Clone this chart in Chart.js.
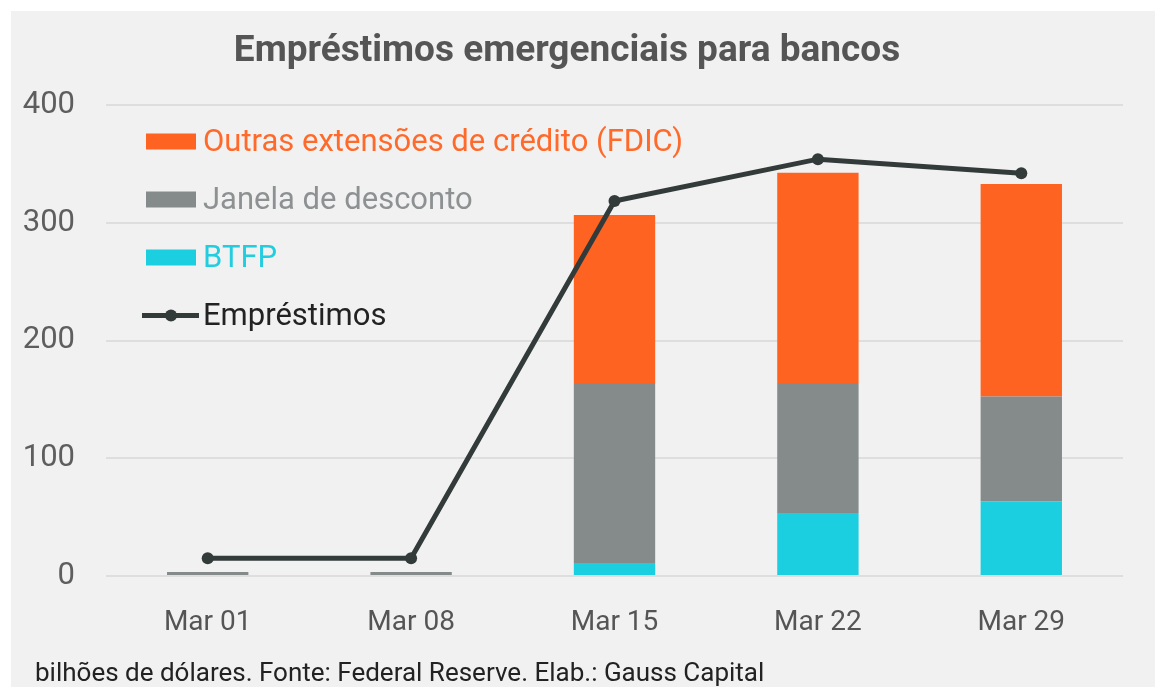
<!DOCTYPE html>
<html>
<head>
<meta charset="utf-8">
<script src="https://cdn.jsdelivr.net/npm/chart.js@4.4.1/dist/chart.umd.min.js"></script>
<style>
  html, body { margin: 0; padding: 0; background: #ffffff; }
  #card { position: absolute; left: 11px; top: 11px; width: 1144px; height: 676px; background: #f1f1f1; }
  canvas { display: block; }
</style>
</head>
<body>
<div id="card"><canvas id="c" width="1144" height="676"></canvas></div>
<script>
const FONT = "'Roboto', 'Liberation Sans', sans-serif";

const categories = ["Mar 01", "Mar 08", "Mar 15", "Mar 22", "Mar 29"];
const btfp = [0, 0, 11, 53.5, 63.5];
const janela = [3.5, 3.5, 153, 110.5, 89];
const outras = [0, 0, 142.5, 178.5, 180.5];
const emprestimos = [15, 15, 318.5, 354, 342];
const yTicks = [0, 100, 200, 300, 400];

const titleText = "Empréstimos emergenciais para bancos";
const footText = "bilhões de dólares. Fonte: Federal Reserve. Elab.: Gauss Capital";

const COLORS = {
  outras: "#ff6322",
  janela: "#858a8b",
  btfp: "#1bcfe1",
  line: "#333a3a"
};

const legendItems = [
  { label: "Outras extensões de crédito (FDIC)", color: COLORS.outras, text: "#ff6a2a", type: "box" },
  { label: "Janela de desconto", color: COLORS.janela, text: "#8d9192", type: "box" },
  { label: "BTFP", color: COLORS.btfp, text: "#22cde0", type: "box" },
  { label: "Empréstimos", color: COLORS.line, text: "#222222", type: "line" }
];

const customLegend = {
  id: "customLegend",
  afterDraw(chart) {
    const ctx = chart.ctx;
    const a = chart.chartArea;
    const x0 = a.left + 40;
    let y = a.top + 36.5;
    ctx.save();
    ctx.font = "31px " + FONT;
    ctx.textBaseline = "middle";
    legendItems.forEach(it => {
      if (it.type === "box") {
        ctx.fillStyle = it.color;
        ctx.fillRect(x0, y - 8, 50, 16);
      } else {
        ctx.strokeStyle = it.color;
        ctx.lineWidth = 5;
        ctx.beginPath();
        ctx.moveTo(x0 - 4, y);
        ctx.lineTo(x0 + 53, y);
        ctx.stroke();
        ctx.fillStyle = it.color;
        ctx.beginPath();
        ctx.arc(x0 + 25, y, 6, 0, Math.PI * 2);
        ctx.fill();
      }
      ctx.fillStyle = it.text;
      ctx.textAlign = "left";
      ctx.fillText(it.label, x0 + 57, y + 2);
      y += 58;
    });
    ctx.restore();
  }
};

const footnote = {
  id: "footnote",
  afterDraw(chart) {
    const ctx = chart.ctx;
    ctx.save();
    ctx.font = "26px " + FONT;
    ctx.fillStyle = "#222222";
    ctx.textAlign = "left";
    ctx.textBaseline = "alphabetic";
    ctx.fillText(footText, 24, 670);
    ctx.restore();
  }
};

new Chart(document.getElementById("c"), {
  type: "bar",
  data: {
    labels: categories,
    datasets: [
      { type: "line", label: "Empréstimos", data: emprestimos, borderColor: COLORS.line, backgroundColor: COLORS.line,
        borderWidth: 5, pointRadius: 6, pointHoverRadius: 6, pointBackgroundColor: COLORS.line, pointBorderWidth: 0,
        tension: 0, order: 0, stack: "line" },
      { label: "BTFP", data: btfp, backgroundColor: COLORS.btfp, order: 1, stack: "bars" },
      { label: "Janela de desconto", data: janela, backgroundColor: COLORS.janela, order: 1, stack: "bars" },
      { label: "Outras extensões de crédito (FDIC)", data: outras, backgroundColor: COLORS.outras, order: 1, stack: "bars" }
    ]
  },
  options: {
    responsive: false,
    animation: false,
    categoryPercentage: 0.8,
    barPercentage: 0.5,
    layout: { padding: { left: 0, right: 32, top: 0, bottom: 0 } },
    plugins: {
      legend: { display: false },
      tooltip: { enabled: false },
      title: {
        display: true,
        text: titleText,
        color: "#555555",
        font: { family: FONT, size: 37, weight: "bold" },
        padding: { top: 19, bottom: 30.6 }
      }
    },
    scales: {
      x: {
        stacked: true,
        grid: { display: false, drawTicks: false },
        border: { display: false },
        ticks: { color: "#555555", font: { family: FONT, size: 28 }, padding: 30 },
        afterFit(scale) { scale.height = 111; }
      },
      y: {
        stacked: true,
        min: 0,
        max: 400,
        afterBuildTicks(scale) { scale.ticks = yTicks.map(v => ({ value: v })); },
        grid: { color: "#dedede", lineWidth: 2, drawTicks: false },
        border: { display: false },
        ticks: { color: "#5e5e5e", font: { family: FONT, size: 31 }, padding: 31 },
        afterFit(scale) { scale.width = 95; }
      }
    }
  },
  plugins: [customLegend, footnote]
});
</script>
</body>
</html>
